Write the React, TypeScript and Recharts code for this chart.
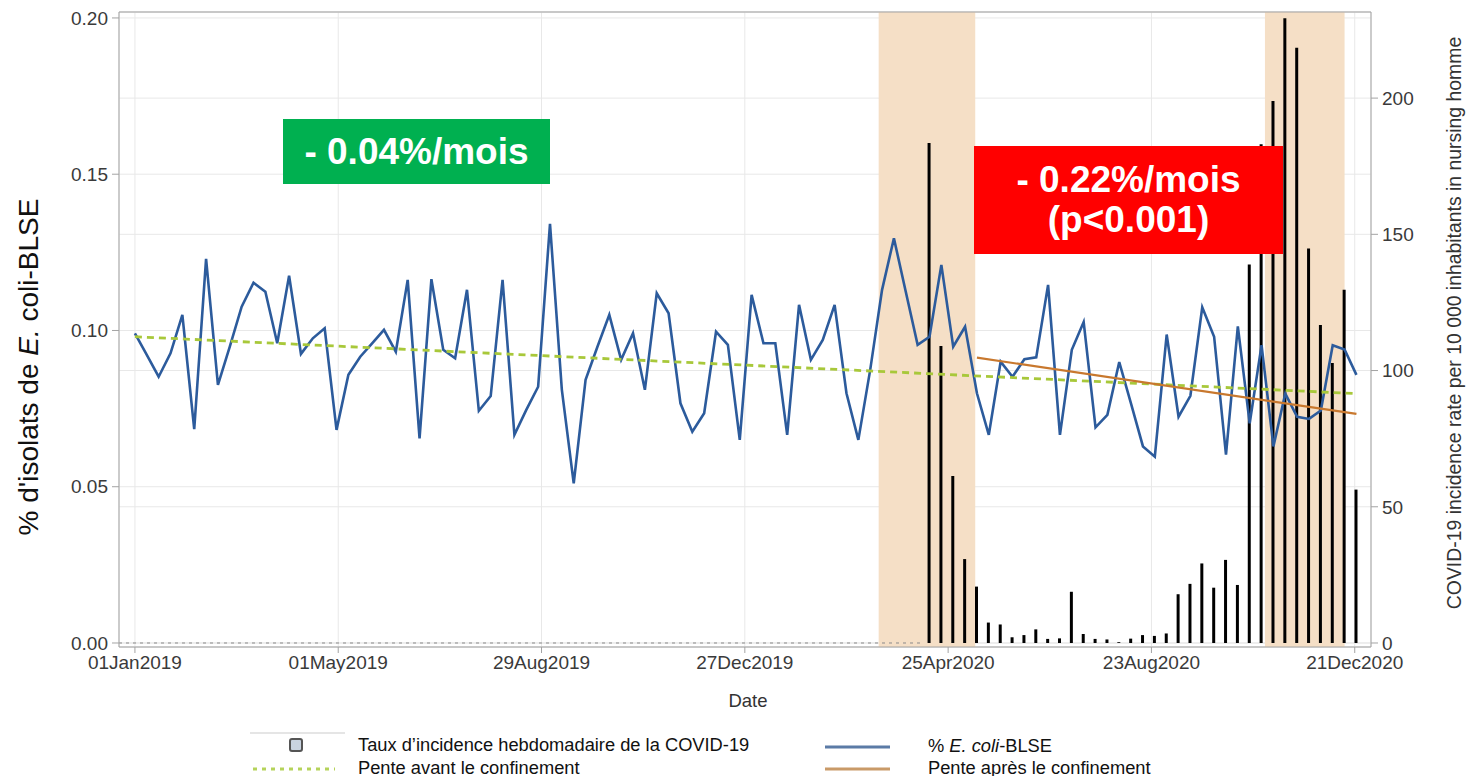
import React from 'react'
import {
  Bar, CartesianGrid, ComposedChart, Line, ReferenceArea, ReferenceLine, XAxis, YAxis,
} from 'recharts'

// x axis is in days since 01Jan2019, one point per week
const X_TICKS = [0, 120, 240, 360, 480, 600, 720]
const X_LABELS = ['01Jan2019', '01May2019', '29Aug2019', '27Dec2019', '25Apr2020', '23Aug2020', '21Dec2020']
const LEFT_TICKS = [0, 0.05, 0.1, 0.15, 0.2]
const RIGHT_TICKS = [0, 50, 100, 150, 200]

// confinement periods (day numbers)
const LOCKDOWNS: [number, number][] = [[439, 496], [667, 714]]

// weekly share of ESBL E. coli isolates
const PCT = [
  0.0991, 0.0922, 0.0852, 0.0927, 0.105, 0.0684, 0.1229, 0.0826, 0.0948, 0.1076,
  0.1153, 0.1124, 0.0959, 0.1175, 0.0925, 0.0975, 0.1007, 0.0682, 0.0858, 0.0916,
  0.0959, 0.1002, 0.0932, 0.1162, 0.0655, 0.1164, 0.0938, 0.0911, 0.113, 0.0743,
  0.079, 0.1162, 0.0666, 0.0746, 0.082, 0.1341, 0.081, 0.0511, 0.0842, 0.0948,
  0.105, 0.0906, 0.0991, 0.081, 0.1119, 0.1055, 0.0767, 0.0676, 0.0735, 0.0996,
  0.0954, 0.065, 0.1114, 0.0959, 0.0959, 0.0666, 0.1082, 0.0906, 0.097, 0.1082,
  0.0799, 0.065, 0.0874, 0.113, 0.1295, 0.1124, 0.0954, 0.098, 0.121, 0.0948,
  0.1012, 0.0799, 0.0666, 0.09, 0.0852, 0.0908, 0.0914, 0.1146, 0.0666, 0.0938,
  0.1027, 0.069, 0.073, 0.0899, 0.0765, 0.0629, 0.0596, 0.0987, 0.0724, 0.0791,
  0.1074, 0.098, 0.0603, 0.1013, 0.0703, 0.0953, 0.0629, 0.0798, 0.0724, 0.0717,
  0.0744, 0.0953, 0.0939, 0.0858,
]

// weekly COVID-19 incidence, starting at week COVID_FROM
const COVID_FROM = 67
const COVID = [
  183.5, 109, 61.3, 30.8, 20.7, 7.5, 6.8, 2.1, 2.9, 5.0,
  1.5, 1.7, 18.8, 3.3, 1.5, 1.3, 0.3, 1.6, 2.9, 2.6,
  3.5, 17.9, 21.7, 29.2, 20.3, 30.5, 21.3, 138.9, 183.1, 198.9,
  229.3, 218.5, 144.8, 116.7, 102.8, 129.7, 56.3,
]

// trend lines: [start, end]
const PRE_TREND = [0.098, 0.0798]
const POST_FROM = 71
const POST_TREND = [0.0913, 0.0733]

const last = PCT.length - 1
const data = PCT.map((v, i) => ({
  day: i * 7,
  pct: v,
  covid: i >= COVID_FROM ? COVID[i - COVID_FROM] : null,
  pre: i === 0 ? PRE_TREND[0] : i === last ? PRE_TREND[1] : null,
  post: i === POST_FROM ? POST_TREND[0] : i === last ? POST_TREND[1] : null,
}))

const FONT = '"Liberation Sans", Arial, sans-serif'
const FRAME = '#a3a3a3'
const GRID = '#e8e8e8'
const TICK = { fontSize: 19, fill: '#3a3a3a', fontFamily: FONT }
const X_DOMAIN = [-9.4, 729.6]
const L_DOMAIN = [-0.00128, 0.2019]
const R_DOMAIN = [-1.47, 231.6]

export default function App() {
  return (
    <div style={{ position: 'relative', width: 1467, height: 776, fontFamily: FONT, color: '#222', background: '#fff' }}>
      <style>{'body{margin:0}'}</style>
      <ComposedChart width={1467} height={700} data={data} margin={{ top: 12, right: 0, bottom: 13, left: 0 }}>
        {LOCKDOWNS.map(([a, b], i) => (
          <ReferenceArea key={i} yAxisId="left" x1={a} x2={b} fill="#f5dfc6" fillOpacity={1} stroke="none" />
        ))}
        <CartesianGrid yAxisId="left" stroke={GRID} />
        <CartesianGrid yAxisId="right" stroke={GRID} vertical={false} />
        <XAxis
          type="number" dataKey="day" domain={X_DOMAIN} ticks={X_TICKS} allowDataOverflow
          tickFormatter={(v) => X_LABELS[X_TICKS.indexOf(v)] ?? ''}
          tick={TICK} tickSize={6} tickMargin={3} height={40}
          axisLine={{ stroke: FRAME }} tickLine={{ stroke: FRAME }}
        />
        <YAxis
          yAxisId="left" domain={L_DOMAIN} ticks={LEFT_TICKS} allowDataOverflow width={119}
          tickFormatter={(v) => v.toFixed(2)} tick={TICK} tickSize={7} tickMargin={4}
          axisLine={{ stroke: FRAME }} tickLine={{ stroke: FRAME }}
        />
        <YAxis
          yAxisId="right" orientation="right" domain={R_DOMAIN} ticks={RIGHT_TICKS} allowDataOverflow width={96}
          tick={TICK} tickSize={7} tickMargin={4}
          axisLine={{ stroke: FRAME }} tickLine={{ stroke: FRAME }}
        />
        <ReferenceLine yAxisId="left" y={L_DOMAIN[1]} stroke={FRAME} ifOverflow="visible" />
        <ReferenceLine
          yAxisId="right" ifOverflow="visible" stroke="#8a8a8a" strokeDasharray="3 4"
          segment={[{ x: X_DOMAIN[0], y: 0 }, { x: COVID_FROM * 7 - 4, y: 0 }]}
        />
        <Bar yAxisId="right" dataKey="covid" fill="#000" barSize={3} isAnimationActive={false} />
        <Line
          yAxisId="left" dataKey="pct" stroke="#2c5b9c" strokeWidth={2.6} dot={false}
          isAnimationActive={false}
        />
        <Line
          yAxisId="left" dataKey="pre" stroke="#a8c83a" strokeWidth={2.8} strokeDasharray="7 5"
          dot={false} connectNulls isAnimationActive={false}
        />
        <Line
          yAxisId="left" dataKey="post" stroke="#c8782e" strokeWidth={2.2}
          dot={false} connectNulls isAnimationActive={false}
        />
      </ComposedChart>

      {/* annotations */}
      <div style={{
        position: 'absolute', left: 283, top: 119, width: 267, height: 65, background: '#00b050',
        color: '#fff', fontWeight: 700, fontSize: 37, display: 'flex', alignItems: 'center', justifyContent: 'center',
      }}>- 0.04%/mois</div>
      <div style={{
        position: 'absolute', left: 974, top: 146, width: 309, height: 108, background: '#ff0000',
        color: '#fff', fontWeight: 700, fontSize: 37, lineHeight: '40px', display: 'flex', flexDirection: 'column',
        alignItems: 'center', justifyContent: 'center', textAlign: 'center',
      }}>
        <div>- 0.22%/mois</div>
        <div>(p&lt;0.001)</div>
      </div>

      {/* axis titles */}
      <div style={{
        position: 'absolute', left: 29, top: 367, transform: 'translate(-50%, -50%) rotate(-90deg)',
        whiteSpace: 'nowrap', fontSize: 28, color: '#111',
      }}>% d'isolats de <i>E.</i> coli-BLSE</div>
      <div style={{
        position: 'absolute', left: 1454, top: 323, transform: 'translate(-50%, -50%) rotate(-90deg)',
        whiteSpace: 'nowrap', fontSize: 19.4, color: '#333',
      }}>COVID-19 incidence rate per 10 000 inhabitants in nursing homme</div>
      <div style={{
        position: 'absolute', left: 748, top: 701, transform: 'translate(-50%, -50%)', fontSize: 18.5, color: '#333',
      }}>Date</div>

      {/* legend */}
      <Legend />
    </div>
  )
}

function Legend() {
  const txt: React.CSSProperties = { position: 'absolute', fontSize: 18.3, whiteSpace: 'nowrap', transform: 'translateY(-50%)', color: '#111' }
  return (
    <>
      <svg width={1467} height={60} style={{ position: 'absolute', left: 0, top: 720 }}>
        <line x1={250} x2={345} y1={13} y2={13} stroke="#dcdcdc" strokeWidth={1.5} />
        <rect x={290} y={19} width={12} height={12} rx={2} fill="#c9d3e0" stroke="#555" strokeWidth={2} />
        <line x1={253} x2={335} y1={49} y2={49} stroke="#b5d35a" strokeWidth={3} strokeDasharray="4 5" />
        <line x1={825} x2={890} y1={27} y2={27} stroke="#5b7ba6" strokeWidth={3} />
        <line x1={825} x2={890} y1={49} y2={49} stroke="#c99a68" strokeWidth={3} />
      </svg>
      <div style={{ ...txt, left: 358, top: 745 }}>Taux d’incidence hebdomadaire de la COVID-19</div>
      <div style={{ ...txt, left: 358, top: 768 }}>Pente avant le confinement</div>
      <div style={{ ...txt, left: 928, top: 746 }}>% <i>E. coli</i>-BLSE</div>
      <div style={{ ...txt, left: 928, top: 768 }}>Pente après le confinement</div>
    </>
  )
}
